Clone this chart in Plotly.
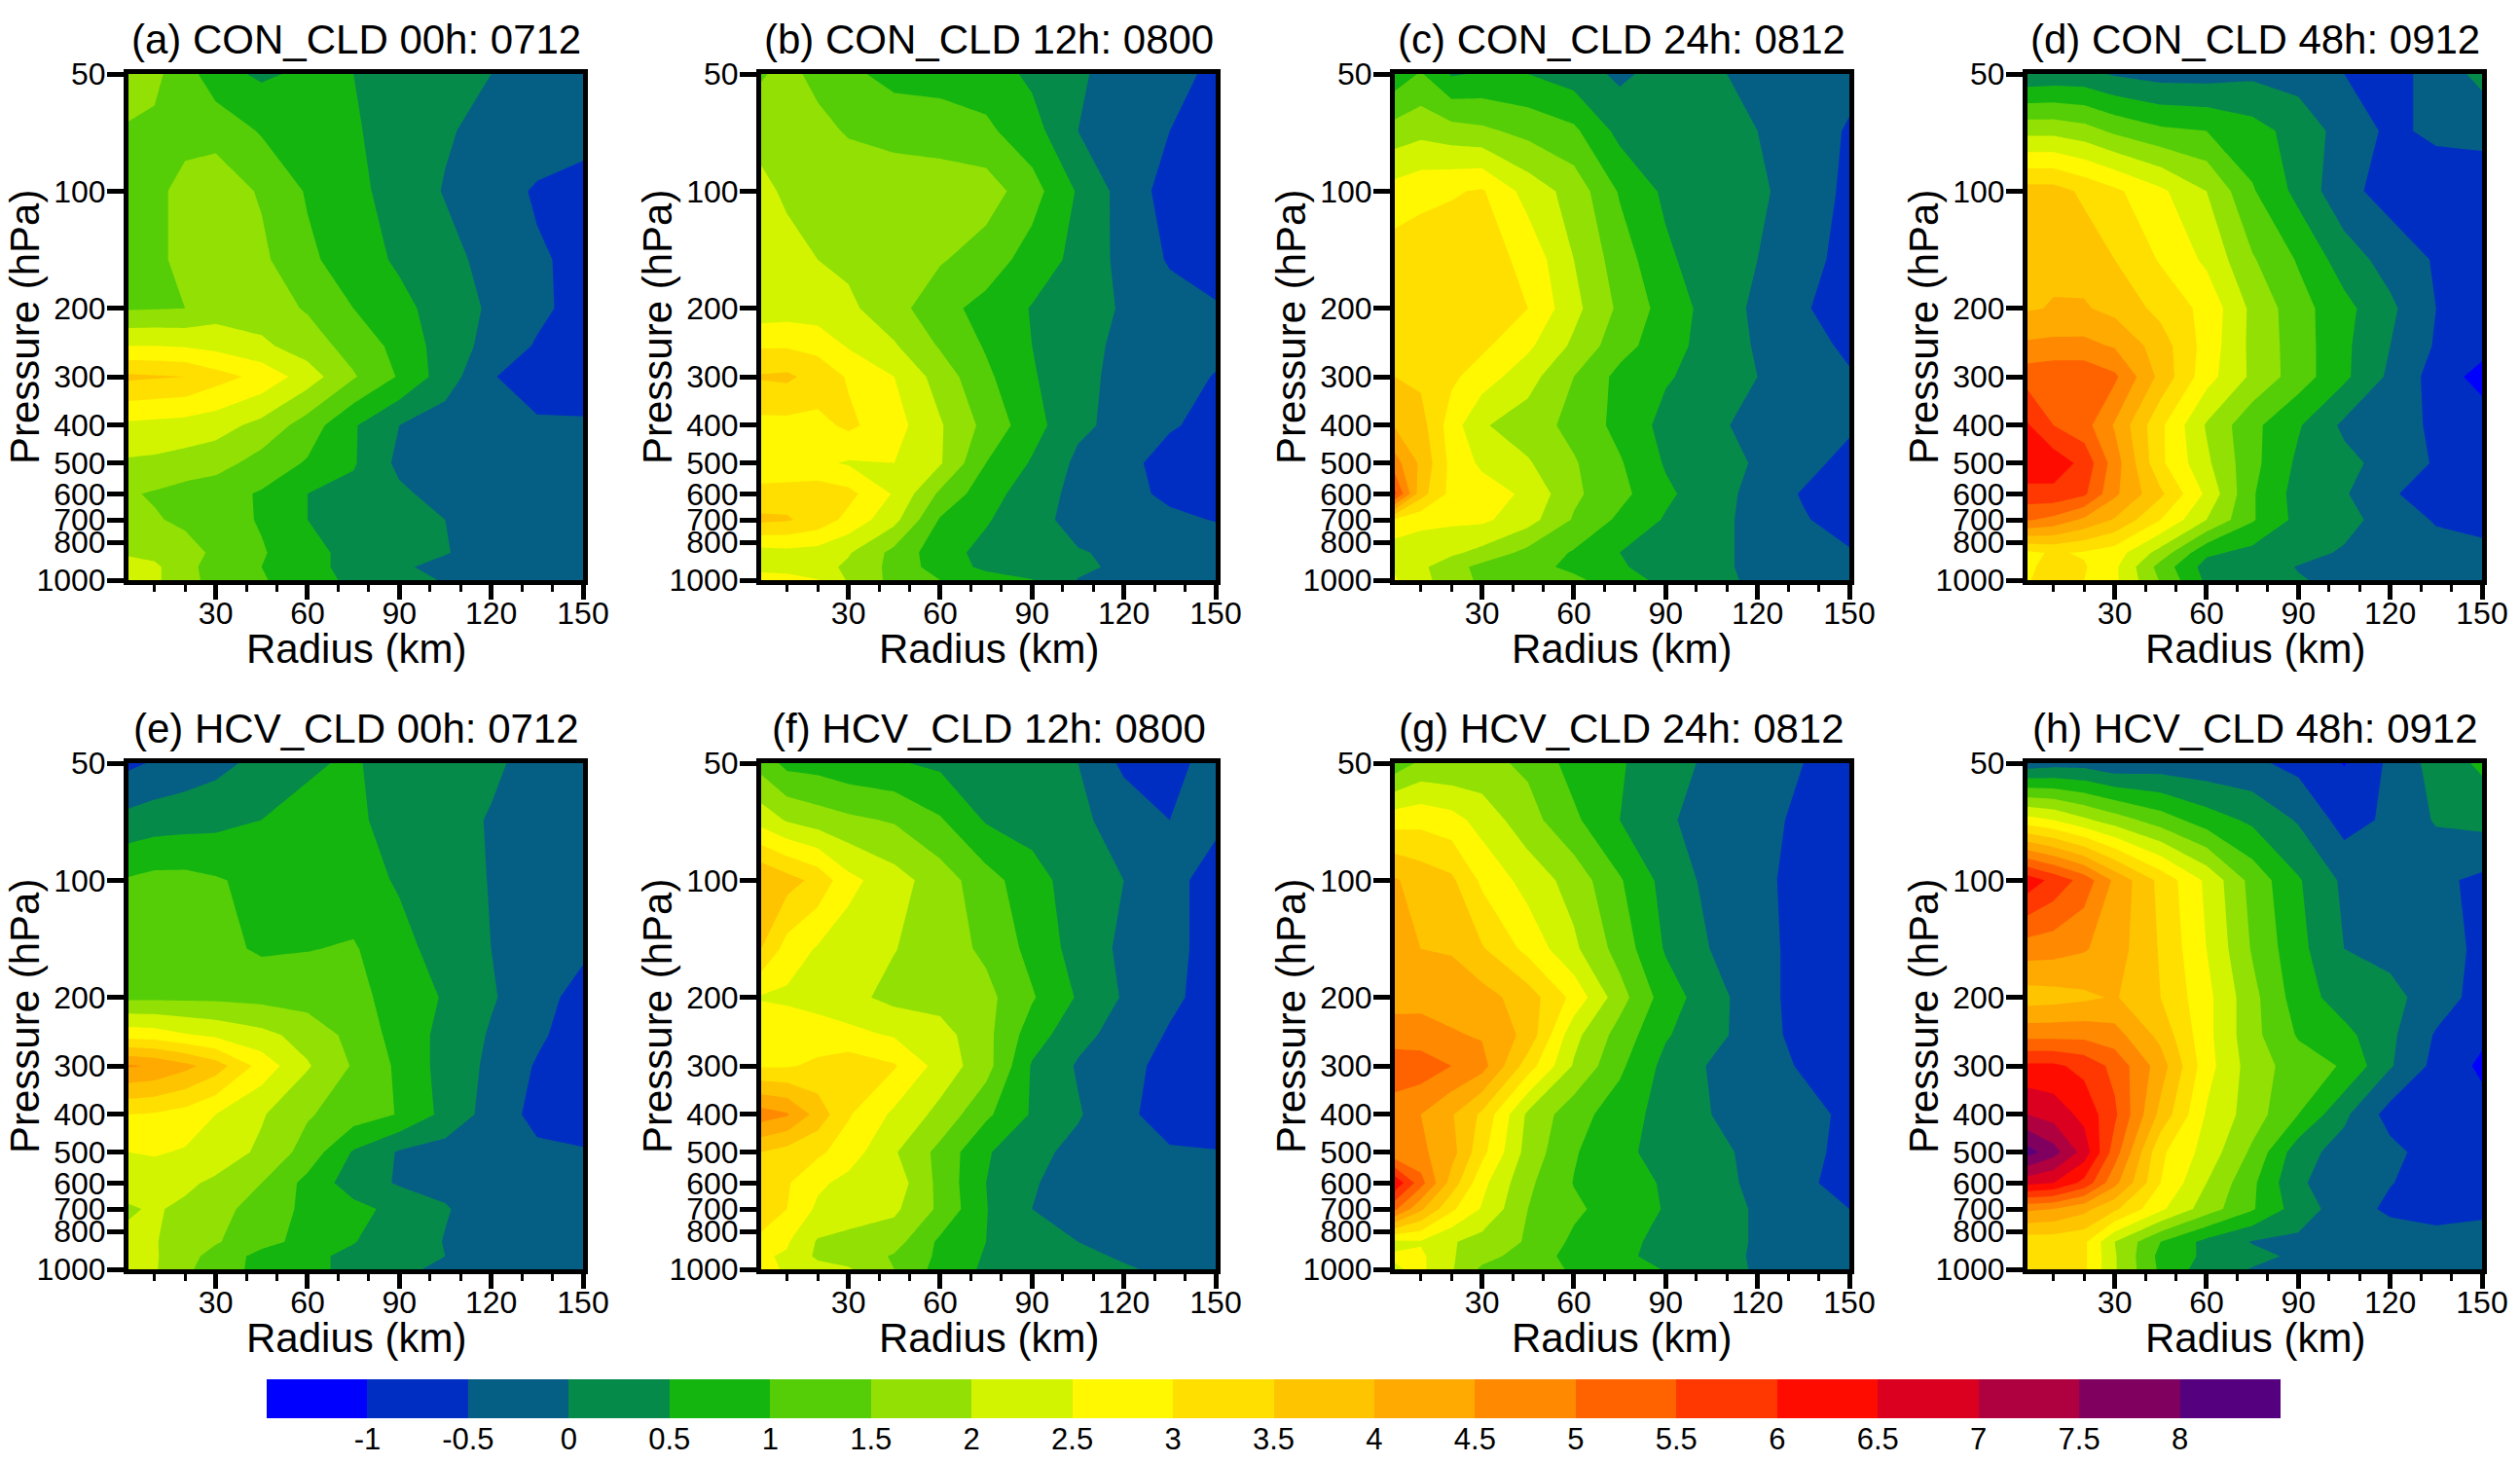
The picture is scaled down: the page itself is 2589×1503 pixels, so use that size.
import plotly.graph_objects as go

# radius (km) and pressure (hPa) grid of every panel
radius = [1.5, 10, 20, 30, 45, 60, 75, 90, 105, 120, 135, 150]
pressure = [50, 70, 100, 150, 200, 250, 300, 400, 500, 600, 700, 850, 925, 1000]

con_00h = [
    [1.75, 1.6, 1.25, .67, .42, .6, .5, .3, .15, 0, -.2, -.3],
    [1.45, 1.42, 1.4, 1.35, .95, .8, .55, .3, .05, -.15, -.25, -.3],
    [1.35, 1.42, 1.6, 1.75, 1.45, .95, .65, .27, -.03, -.3, -.55, -.7],
    [1.35, 1.42, 1.6, 1.8, 1.6, 1.1, .75, .42, .15, -.15, -.45, -.6],
    [1.45, 1.47, 1.5, 1.75, 1.75, 1.45, 1.0, .65, .26, -.07, -.38, -.7],
    [2.5, 2.5, 2.45, 2.35, 2.1, 1.75, 1.3, .85, .25, -.15, -.55, -.85],
    [3.6, 3.55, 3.5, 3.2, 2.85, 2.25, 1.55, .95, .25, -.45, -.85, -.95],
    [2.4, 2.35, 2.3, 2.2, 1.85, 1.27, .55, 0, -.25, -.4, -.4, -.4],
    [1.93, 1.9, 1.8, 1.7, 1.3, .95, .55, -.12, -.25, -.4, -.4, -.4],
    [1.55, 1.45, 1.3, 1.2, .95, .5, .35, .1, -.2, -.35, -.35, -.35],
    [1.6, 1.55, 1.4, 1.25, .95, .5, .3, .15, 0, -.2, -.3, -.3],
    [1.95, 1.85, 1.7, 1.4, 1.05, .65, .35, .1, .02, -.15, -.25, -.25],
    [2.15, 2.1, 1.65, 1.3, 1.0, .65, .35, .05, -.1, -.2, -.25, -.25],
    [2.2, 2.1, 1.65, 1.35, 1.05, .7, .4, .15, -.03, -.2, -.25, -.3],
]
con_12h = [
    [1.45, 1.65, 1.35, 1.1, .85, .85, .75, .4, .05, -.15, -.35, -.6],
    [1.8, 1.8, 1.65, 1.45, 1.3, 1.2, 1.1, .7, 0, -.25, -.5, -.7],
    [2.15, 1.9, 1.85, 1.85, 1.85, 1.85, 1.75, 1.2, .45, -.2, -.7, -.8],
    [2.2, 2.2, 2.0, 1.9, 1.8, 1.55, 1.25, .8, .35, -.15, -.55, -.75],
    [2.2, 2.25, 2.2, 2.1, 1.7, 1.15, .85, .47, .22, -.05, -.3, -.45],
    [2.95, 2.95, 2.85, 2.45, 2.05, 1.45, .95, .5, .15, -.1, -.3, -.4],
    [3.55, 3.6, 3.3, 2.95, 2.5, 1.78, 1.1, .55, .15, -.15, -.35, -.52],
    [2.85, 2.85, 2.85, 3.1, 2.7, 2.05, 1.35, .7, .1, -.15, -.45, -.65],
    [2.6, 2.5, 2.6, 2.45, 2.5, 2.05, 1.0, .45, -.1, -.35, -.7, -.75],
    [3.2, 3.3, 3.3, 3.15, 2.45, 1.4, .7, .25, -.15, -.35, -.6, -.85],
    [3.6, 3.55, 3.3, 2.85, 2.15, .95, .55, .15, -.15, -.25, -.4, -.52],
    [2.3, 2.35, 2.3, 2.05, 1.35, .7, .35, .2, .03, -.08, -.15, -.2],
    [2.4, 2.35, 2.2, 1.9, 1.35, .75, .4, .25, .1, -.1, -.15, -.2],
    [2.65, 2.65, 2.52, 1.95, 1.35, 1.0, .7, .52, -.02, -.1, -.15, -.2],
]
con_24h = [
    [.7, 1.05, .45, .55, .5, .25, -.1, .2, .1, -.2, -.48, -.35],
    [1.7, 1.85, 1.7, 1.6, 1.35, 1.1, .35, .3, .15, 0, -.25, -.55],
    [2.7, 2.85, 2.95, 3.05, 2.3, 1.8, .95, .4, .2, .1, -.25, -.6],
    [3.25, 3.3, 3.3, 3.25, 2.85, 2.0, 1.25, .6, .2, 0, -.35, -.65],
    [3.3, 3.35, 3.45, 3.48, 3.0, 2.15, 1.4, .8, .3, -.1, -.45, -.75],
    [3.35, 3.35, 3.3, 3.1, 2.6, 1.9, 1.2, .7, .3, -.05, -.3, -.6],
    [3.5, 3.4, 3.1, 2.75, 2.2, 1.5, .85, .55, .3, 0, -.2, -.45],
    [3.95, 3.7, 2.75, 2.05, 1.75, 1.35, .85, .35, .1, -.15, -.3, -.4],
    [4.7, 3.9, 2.85, 2.4, 2.05, 1.55, 1.05, .45, .2, -.05, -.3, -.7],
    [5.6, 3.7, 2.85, 2.75, 2.4, 1.6, 1.15, .6, .2, -.15, -.55, -.85],
    [2.9, 2.65, 2.6, 2.6, 2.2, 1.45, .9, .45, .15, -.15, -.45, -.75],
    [2.2, 2.2, 2.1, 1.85, 1.35, .95, .5, .3, .1, -.1, -.3, -.45],
    [2.45, 2.1, 1.7, 1.35, 1.15, .9, .55, .3, .1, -.1, -.15, -.15],
    [2.55, 2.15, 1.75, 1.4, 1.25, 1.1, .75, .35, .15, -.1, -.15, -.2],
]
con_48h = [
    [.1, .15, .15, -.05, -.2, -.2, -.1, -.2, -.5, -.7, -.3, .15],
    [1.85, 1.85, 1.7, 1.4, 1.1, 1.0, .7, .3, -.2, -.6, -.4, -.35],
    [3.7, 3.7, 3.4, 3.1, 2.6, 2.0, 1.05, .35, -.35, -.7, -.8, -.8],
    [3.9, 3.9, 3.8, 3.5, 2.95, 2.4, 1.55, .95, .25, -.2, -.55, -.7],
    [3.95, 4.03, 4.05, 3.85, 3.35, 2.85, 1.88, 1.2, .65, .1, -.5, -.7],
    [4.6, 4.65, 4.65, 4.45, 3.75, 2.8, 1.87, 1.25, .6, 0, -.55, -.8],
    [5.3, 5.4, 5.4, 5.1, 3.85, 2.7, 1.9, 1.25, .6, -.1, -.7, -1.2],
    [6.05, 5.5, 5.2, 4.45, 3.1, 1.95, 1.13, .55, -.1, -.25, -.6, -.7],
    [6.4, 6.3, 5.85, 4.75, 3.1, 2.1, 1.15, .4, .15, -.2, -.55, -.75],
    [5.8, 5.85, 5.6, 4.6, 3.6, 2.4, 1.05, .3, .05, -.45, -.7, -.85],
    [5.05, 4.85, 4.4, 3.95, 3.0, 2.0, 1.05, .35, .15, -.2, -.55, -.8],
    [2.9, 3.05, 2.95, 2.75, 1.8, .6, .35, .15, -.05, -.15, -.3, -.25],
    [2.9, 3.2, 3.05, 2.6, 1.3, .3, .2, -.02, -.1, -.1, -.1, -.15],
    [2.95, 3.3, 3.0, 2.6, 1.45, .4, .15, .03, -.1, -.15, -.2, -.2],
]
hcv_00h = [
    [-.6, -.45, -.3, -.15, .15, .45, .55, .3, .2, .05, -.1, -.2],
    [.15, .25, .3, .35, .5, .6, .6, .3, .1, -.02, -.15, -.2],
    [1.05, 1.15, 1.15, 1.05, .85, .8, .7, .45, .2, -.02, -.2, -.3],
    [1.35, 1.35, 1.3, 1.15, .93, .98, 1.05, .65, .3, 0, -.25, -.4],
    [1.4, 1.4, 1.4, 1.4, 1.35, 1.3, 1.15, .8, .45, .05, -.3, -.7],
    [2.8, 2.75, 2.55, 2.4, 2.15, 1.8, 1.35, .8, .35, -.05, -.4, -.8],
    [4.55, 4.45, 4.15, 3.75, 2.8, 2.05, 1.45, .9, .3, -.1, -.55, -.95],
    [3.0, 2.95, 2.8, 2.5, 2.05, 1.55, 1.25, .97, .35, -.2, -.65, -.8],
    [2.5, 2.55, 2.45, 2.3, 1.9, 1.3, .45, -.05, -.2, -.3, -.4, -.45],
    [2.2, 2.2, 2.1, 1.9, 1.5, .85, .25, -.05, -.1, -.2, -.3, -.3],
    [1.95, 2.05, 1.9, 1.7, 1.25, .9, .65, .35, .03, -.2, -.25, -.25],
    [2.1, 2.05, 1.65, 1.55, 1.15, .85, .52, .25, -.02, -.1, -.15, -.15],
    [2.15, 2.05, 1.7, 1.3, .85, .6, .4, .2, 0, -.15, -.15, -.15],
    [2.2, 2.05, 1.6, 1.25, .85, .6, .4, .1, -.1, -.15, -.15, -.2],
]
hcv_12h = [
    [1.3, .85, .8, .65, .55, .4, .05, .25, 0, -.6, -.7, -.25],
    [2.3, 1.95, 1.75, 1.6, 1.45, 1.05, .45, .3, .1, -.2, -.5, -.4],
    [4.0, 3.7, 3.35, 2.65, 2.2, 1.75, 1.2, .7, .25, 0, -.35, -.7],
    [3.5, 2.8, 2.45, 2.25, 2.02, 1.75, 1.4, .85, .3, -.1, -.35, -.7],
    [2.45, 2.4, 2.3, 2.15, 1.85, 1.8, 1.65, 1.05, .45, -.05, -.4, -.7],
    [2.95, 2.85, 2.75, 2.65, 2.45, 2.2, 1.65, .75, .15, -.2, -.55, -.85],
    [2.95, 2.95, 3.1, 3.3, 3.05, 2.3, 1.7, .45, -.05, -.35, -.65, -.85],
    [4.75, 4.55, 3.8, 3.05, 2.4, 1.85, 1.1, .45, .05, -.4, -.7, -.75],
    [3.5, 3.3, 3.1, 2.75, 2.05, 1.35, .55, .15, -.15, -.3, -.45, -.48],
    [3.25, 3.05, 2.6, 2.35, 2.3, 1.35, .5, .02, -.1, -.2, -.25, -.3],
    [3.45, 3.0, 2.4, 2.25, 2.1, 1.4, .52, 0, -.1, -.15, -.2, -.2],
    [2.8, 2.55, 1.95, 1.85, 1.7, .9, .5, .25, 0, -.1, -.2, -.2],
    [2.55, 2.45, 1.9, 1.8, 1.45, .9, .45, .25, .1, -.05, -.15, -.15],
    [2.75, 2.4, 2.2, 2.05, 1.5, .8, .42, .3, .15, .05, -.1, -.15],
]
hcv_24h = [
    [1.2, 1.6, 1.55, 1.65, 1.4, .8, .55, .2, -.1, -.35, -.5, -.7],
    [2.8, 2.85, 2.7, 2.3, 1.7, 1.1, .5, .07, -.2, -.35, -.6, -.75],
    [4.05, 3.8, 3.6, 2.9, 2.3, 1.8, 1.05, .32, -.15, -.35, -.7, -.8],
    [4.05, 4.0, 3.95, 3.55, 2.85, 2.1, 1.3, .45, -.02, -.35, -.65, -.8],
    [4.3, 4.35, 4.3, 4.2, 3.75, 2.85, 1.7, .75, .2, -.3, -.7, -.95],
    [4.75, 4.7, 4.55, 4.45, 3.85, 2.15, 1.3, .55, .15, -.25, -.7, -.9],
    [5.3, 5.3, 5.0, 4.7, 3.25, 1.95, 1.1, .35, -.05, -.3, -.55, -.75],
    [4.75, 4.5, 4.05, 3.4, 1.9, 1.2, .75, .3, 0, -.2, -.35, -.6],
    [4.6, 4.6, 4.2, 3.15, 1.8, 1.05, .6, .35, .1, -.1, -.35, -.65],
    [6.4, 5.2, 3.8, 2.65, 1.6, .98, .7, .45, .15, -.1, -.4, -.7],
    [5.1, 4.1, 3.1, 2.45, 1.5, 1.1, .75, .47, .2, -.05, -.3, -.5],
    [2.4, 2.45, 2.05, 1.8, 1.45, .9, .6, .4, .2, -.05, -.2, -.25],
    [2.55, 2.6, 2.05, 1.7, 1.25, .85, .6, .35, .15, -.05, -.15, -.2],
    [2.45, 2.6, 2.05, 1.4, 1.2, .95, .75, .47, .2, -.05, -.15, -.2],
]
hcv_48h = [
    [-.3, -.2, -.2, -.4, -.3, -.35, -.4, -.65, -1.02, -.4, .2, .6],
    [2.7, 2.5, 2.1, 1.75, 1.25, .75, .4, -.05, -.7, -.4, .05, .15],
    [6.3, 5.85, 5.3, 4.4, 3.35, 2.4, 1.32, .55, -.1, -.3, -.4, -.6],
    [4.75, 4.7, 4.55, 4.25, 3.45, 2.5, 1.45, .65, 0, -.15, -.3, -.6],
    [3.75, 3.8, 3.9, 4.05, 3.5, 2.65, 1.65, .75, .25, .15, -.25, -.7],
    [4.85, 4.85, 4.85, 4.7, 3.85, 2.65, 1.65, .95, .65, .1, -.55, -.9],
    [6.1, 6.1, 5.85, 5.35, 4.25, 2.7, 1.75, 1.25, .95, .05, -.65, -1.1],
    [7.0, 6.8, 6.35, 5.6, 3.85, 2.45, 1.75, 1.0, .1, -.7, -.8, -.8],
    [8.2, 7.7, 6.8, 5.25, 3.1, 2.3, 1.4, .2, -.2, -.35, -.75, -.8],
    [6.65, 6.5, 5.85, 4.65, 3.0, 2.0, 1.1, .05, -.2, -.48, -.7, -.8],
    [4.6, 4.5, 4.15, 3.6, 2.6, 1.75, 1.05, .25, -.25, -.6, -.75, -.6],
    [3.2, 3.2, 3.1, 2.0, 1.0, .35, -.03, -.1, -.15, -.2, -.25, -.3],
    [3.2, 3.2, 3.1, 2.05, .85, .4, .15, -.1, -.15, -.15, -.2, -.2],
    [3.2, 3.2, 3.1, 2.05, .9, .25, -.03, -.1, -.15, -.15, -.2, -.2],
]

titles = [
    "(a) CON_CLD 00h: 0712", "(b) CON_CLD 12h: 0800",
    "(c) CON_CLD 24h: 0812", "(d) CON_CLD 48h: 0912",
    "(e) HCV_CLD 00h: 0712", "(f) HCV_CLD 12h: 0800",
    "(g) HCV_CLD 24h: 0812", "(h) HCV_CLD 48h: 0912",
]
panels = [con_00h, con_12h, con_24h, con_48h, hcv_00h, hcv_12h, hcv_24h, hcv_48h]

# one colour per 0.5 interval, from below -1 to above 8
colors = [
    "#0000ff", "#002ec2", "#055f85", "#068a4a", "#15b510",
    "#55ce08", "#93e004", "#d2f400", "#fff800", "#ffdf00",
    "#ffc400", "#ffaa00", "#ff8900", "#ff6300", "#ff3700",
    "#ff0c00", "#dc0020", "#af0040", "#800060", "#55007f",
]
scale = [[i / (len(colors) - 1), c] for i, c in enumerate(colors)]

# colour bar: middle of each 0.5 box
cbar_mids = [-1.25, -.75, -.25, .25, .75, 1.25, 1.75, 2.25, 2.75, 3.25,
             3.75, 4.25, 4.75, 5.25, 5.75, 6.25, 6.75, 7.25, 7.75, 8.25]
cbar_ticks = [-1, -0.5, 0, 0.5, 1, 1.5, 2, 2.5, 3, 3.5, 4, 4.5, 5, 5.5, 6, 6.5, 7, 7.5, 8]
cbar_labels = ["-1", "-0.5", "0", "0.5", "1", "1.5", "2", "2.5", "3", "3.5", "4", "4.5",
               "5", "5.5", "6", "6.5", "7", "7.5", "8"]

W, H = 2589, 1503
FONT = "Liberation Sans"
# panel edges in pixels
lefts = [132, 782, 1433, 2083]
panel_w = 467
tops = [76, 784]
panel_h = 520

fig = go.Figure()
notes = []
for n, z in enumerate(panels):
    row, col = n // 4, n % 4
    x0 = lefts[col] / W
    x1 = (lefts[col] + panel_w) / W
    y1 = 1 - tops[row] / H
    y0 = 1 - (tops[row] + panel_h) / H
    suffix = "" if n == 0 else str(n + 1)
    fig.add_trace(go.Contour(
        x=radius, y=pressure, z=z,
        xaxis="x" + suffix, yaxis="y" + suffix,
        autocontour=False,
        contours=dict(start=-1, end=8, size=0.5, coloring="fill", showlines=False),
        line=dict(width=0, smoothing=0),
        colorscale=scale,
        showscale=False,
    ))
    fig.update_layout({
        "xaxis" + suffix: dict(
            domain=[x0, x1], anchor="y" + suffix, range=[1.5, 150],
            tickmode="array", tickvals=[30, 60, 90, 120, 150],
            ticks="outside", ticklen=15, tickwidth=5, tickcolor="black",
            ticklabelstandoff=-13,
            minor=dict(tickmode="array", tickvals=[10, 20, 40, 50, 70, 80, 100, 110, 130, 140],
                       ticks="outside", ticklen=7, tickwidth=3, tickcolor="black"),
            showline=True, linewidth=5, linecolor="black", mirror=True,
            showgrid=False, zeroline=False,
            tickfont=dict(family=FONT, size=32, color="black"),
        ),
        "yaxis" + suffix: dict(
            domain=[y0, y1], anchor="x" + suffix, type="log", range=[3, 1.69897],
            tickmode="array", tickvals=[50, 100, 200, 300, 400, 500, 600, 700, 800, 1000],
            ticktext=["50", "100", "200", "300", "400", "500", "600", "700", "800", "1000"],
            ticks="outside", ticklen=17, tickwidth=5, tickcolor="black",
            ticklabelstandoff=-5,
            showline=True, linewidth=5, linecolor="black", mirror=True,
            showgrid=False, zeroline=False,
            tickfont=dict(family=FONT, size=32, color="black"),
        ),
    })
    text_font = dict(family=FONT, size=42, color="black")
    notes.append(dict(
        text=titles[n], x=(x0 + x1) / 2, y=y1, xref="paper", yref="paper",
        xanchor="center", yanchor="bottom", yshift=10, showarrow=False, font=text_font,
    ))
    notes.append(dict(
        text="Radius (km)", x=(x0 + x1) / 2, y=y0, xref="paper", yref="paper",
        xanchor="center", yanchor="middle", yshift=-70, showarrow=False, font=text_font,
    ))
    notes.append(dict(
        text="Pressure (hPa)", x=x0, y=(y0 + y1) / 2, xref="paper", yref="paper",
        xanchor="center", yanchor="middle", xshift=-107, textangle=-90,
        showarrow=False, font=text_font,
    ))

# colour bar as its own small axis, so the ticks sit on the box edges
fig.add_trace(go.Heatmap(
    x=cbar_mids, y=[0], z=[cbar_mids],
    xaxis="x9", yaxis="y9",
    zmin=-1.25, zmax=8.25, colorscale=scale, showscale=False,
))
fig.update_layout(
    xaxis9=dict(
        domain=[274 / W, 2343 / W], anchor="y9", range=[-1.5, 8.5],
        tickmode="array", tickvals=cbar_ticks, ticktext=cbar_labels,
        ticks="", showline=False, showgrid=False, zeroline=False,
        tickfont=dict(family=FONT, size=31, color="black"),
    ),
    yaxis9=dict(
        domain=[1 - 1457 / H, 1 - 1417 / H], anchor="x9", range=[-0.5, 0.5],
        showticklabels=False, ticks="", showline=False, showgrid=False, zeroline=False,
    ),
    width=W, height=H, margin=dict(l=0, r=0, t=0, b=0, autoexpand=False),
    paper_bgcolor="white", plot_bgcolor="white",
    annotations=notes, showlegend=False,
)
fig.write_html("out.html", config={"displayModeBar": False},
               post_script="document.body.style.margin = '0';")
